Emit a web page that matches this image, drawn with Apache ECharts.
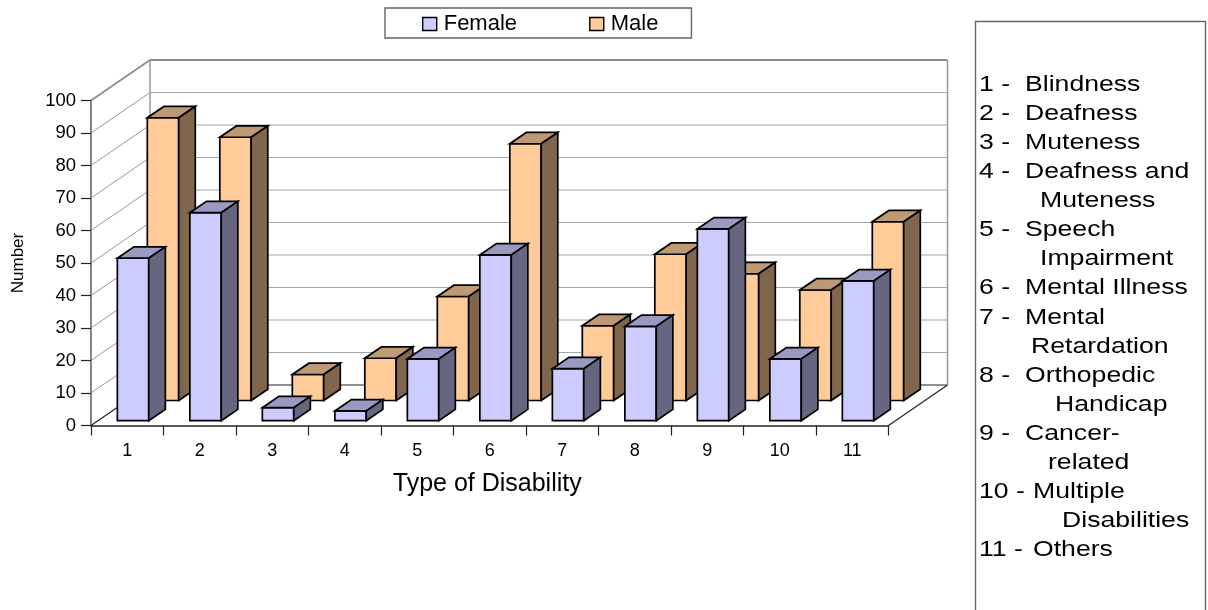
<!DOCTYPE html>
<html>
<head>
<meta charset="utf-8">
<style>html,body{margin:0;padding:0;background:#fff}#c{width:1208px;height:610px}</style>
<script src="https://cdn.jsdelivr.net/npm/echarts@6/dist/echarts.min.js"></script>
</head>
<body>
<div id="c"></div>
<script>
const categories = ['1','2','3','4','5','6','7','8','9','10','11'];
const female = [50,64,4,3,19,51,16,29,59,19,43];
const male = [87,81,8,13,32,79,23,45,39,34,55];
const yTicks = [0,10,20,30,40,50,60,70,80,90,100];
const noteNumbers = ['1 -','2 -','3 -','4 -','','5 -','','6 -','7 -','','8 -','','9 -','','10 -','','11 -'];
const noteTexts = ['Blindness','Deafness','Muteness','Deafness and','Muteness','Speech','Impairment','Mental Illness','Mental','Retardation','Orthopedic','Handicap','Cancer-','related','Multiple','Disabilities','Others'];
const noteIndents = [1025,1025,1025,1025,1040,1025,1040,1025,1025,1031,1025,1055,1025,1048,1033,1062,1033];

const FONT = '"Liberation Sans", Arial, sans-serif';
const WALL = {dx: 59, dy: -40.5};
const BAR = {frac: 0.433, dx: 16.6, dy: -11.3};

function barRenderer(shiftX, shiftY, front, top, side) {
  return function (params, api) {
    const i = api.value(0), v = api.value(1);
    const base = api.coord([i, 0]), head = api.coord([i, v]);
    const w = api.size([1, 0])[0] * BAR.frac;
    const l = base[0] + shiftX - w / 2, r = l + w;
    const b = base[1] + shiftY, t = head[1] + shiftY;
    const line = {stroke: '#000', lineWidth: 1.7, lineJoin: 'miter'};
    const poly = (pts, fill) => ({type: 'polygon', shape: {points: pts}, style: Object.assign({fill}, line)});
    return {type: 'group', children: [
      poly([[l, b], [r, b], [r, t], [l, t]], front),
      poly([[l, t], [r, t], [r + BAR.dx, t + BAR.dy], [l + BAR.dx, t + BAR.dy]], top),
      poly([[r, b], [r + BAR.dx, b + BAR.dy], [r + BAR.dx, t + BAR.dy], [r, t]], side)
    ]};
  };
}

function wallRenderer(params, api) {
  const v = api.value(1);
  const cs = params.coordSys;
  const y = api.coord([0, v])[1];
  const x0 = cs.x, x1 = cs.x + cs.width;
  const bx = x0 + WALL.dx, by = y + WALL.dy, rx = x1 + WALL.dx;
  const seg = (a, b, c, lw) => ({type: 'line', shape: {x1: a[0], y1: a[1], x2: b[0], y2: b[1]}, style: {stroke: c, lineWidth: lw}});
  const kids = [];
  if (v === 0) {
    kids.push(seg([x0, y], [bx, by], '#222', 1.2));
    kids.push(seg([bx, by], [rx, by], '#222', 1.2));
    kids.push(seg([x1, y], [rx, by], '#222', 1.2));
  } else if (v === 100) {
    const y0 = api.coord([0, 0])[1] + WALL.dy;
    kids.push(seg([bx, by], [bx, y0], '#999', 1.5));
    kids.push(seg([rx, by], [rx, y0], '#999', 1.5));
    kids.push(seg([x0, y], [bx, by], '#8c8c8c', 1.8));
    kids.push(seg([bx, by], [rx, by], '#8c8c8c', 1.8));
  } else {
    kids.push(seg([x0, y], [bx, by], '#999', 1));
    kids.push(seg([bx, by], [rx, by], '#a6a6a6', 1.2));
  }
  return {type: 'group', children: kids};
}

const noteGraphics = [{type: 'rect', shape: {x: 975.5, y: 21.5, width: 230, height: 640}, style: {fill: '#fff', stroke: '#666', lineWidth: 1.4}, z: 1}];
const stepY = 29.06;
noteTexts.forEach((t, i) => {
  const cy = 85 + i * stepY;
  const mk = (text, x) => ({type: 'text', x, y: cy, scaleX: 1.21, z: 2, style: {text, fill: '#000', font: '22px ' + FONT, textAlign: 'left', textVerticalAlign: 'middle', verticalAlign: 'middle'}});
  if (noteNumbers[i]) noteGraphics.push(mk(noteNumbers[i], 979));
  noteGraphics.push(mk(t, noteIndents[i]));
});

const chart = echarts.init(document.getElementById('c'), null, {renderer: 'canvas'});
chart.setOption({
  animation: false,
  backgroundColor: '#fff',
  textStyle: {fontFamily: FONT},
  grid: {left: 91, right: 319.5, top: 100.5, bottom: 184.5, containLabel: false, outerBoundsMode: 'none'},
  legend: {
    left: 385, top: 8,
    data: [
      {name: 'Female', icon: 'rect', itemStyle: {color: '#CCCCFF', borderColor: '#000', borderWidth: 1.4}},
      {name: 'Male', icon: 'rect', itemStyle: {color: '#FFCC99', borderColor: '#000', borderWidth: 1.4}}
    ],
    itemWidth: 14, itemHeight: 13, itemGap: 72,
    padding: [5, 33, 3, 37],
    borderColor: '#666', borderWidth: 1.4, backgroundColor: '#fff',
    selectedMode: false,
    textStyle: {fontSize: 22, color: '#000', fontFamily: FONT, lineHeight: 22, padding: [0, 0, 0, 2]}
  },
  xAxis: {
    type: 'category', data: categories, boundaryGap: true,
    name: 'Type of Disability', nameLocation: 'middle', nameGap: 46,
    nameTextStyle: {fontSize: 25, color: '#000', fontFamily: FONT, padding: [0, 5, 0, 0]},
    axisLine: {lineStyle: {color: '#222', width: 1.5}},
    axisTick: {show: true, length: 10, alignWithLabel: false, lineStyle: {color: '#222', width: 1.2}},
    axisLabel: {fontSize: 18, color: '#000', margin: 17, fontFamily: FONT},
    splitLine: {show: false}
  },
  yAxis: {
    type: 'value', min: 0, max: 100, interval: 10,
    name: 'Number', nameLocation: 'middle', nameGap: 64, nameRotate: 90,
    nameTextStyle: {fontSize: 17, color: '#000', fontFamily: FONT},
    axisLine: {show: true, lineStyle: {color: '#666', width: 1.6}},
    axisTick: {show: true, length: 10, lineStyle: {color: '#222', width: 1.2}},
    axisLabel: {fontSize: 18.5, color: '#000', margin: 15, fontFamily: FONT},
    splitLine: {show: false}
  },
  series: [
    {type: 'custom', name: 'walls', silent: true, coordinateSystem: 'cartesian2d', encode: {x: 0, y: 1}, clip: false, z: 1,
      data: yTicks.map(v => [0, v]), renderItem: wallRenderer},
    {type: 'custom', name: 'Male', coordinateSystem: 'cartesian2d', encode: {x: 0, y: 1}, clip: false, z: 3,
      itemStyle: {color: '#FFCC99'},
      data: male.map((v, i) => [i, v]), renderItem: barRenderer(35.75, -25, '#FFCC99', '#BF9973', '#80664D')},
    {type: 'custom', name: 'Female', coordinateSystem: 'cartesian2d', encode: {x: 0, y: 1}, clip: false, z: 4,
      itemStyle: {color: '#CCCCFF'},
      data: female.map((v, i) => [i, v]), renderItem: barRenderer(5.8, -4.8, '#CCCCFF', '#9999C2', '#666680')}
  ],
  graphic: {elements: noteGraphics}
});
</script>
</body>
</html>
